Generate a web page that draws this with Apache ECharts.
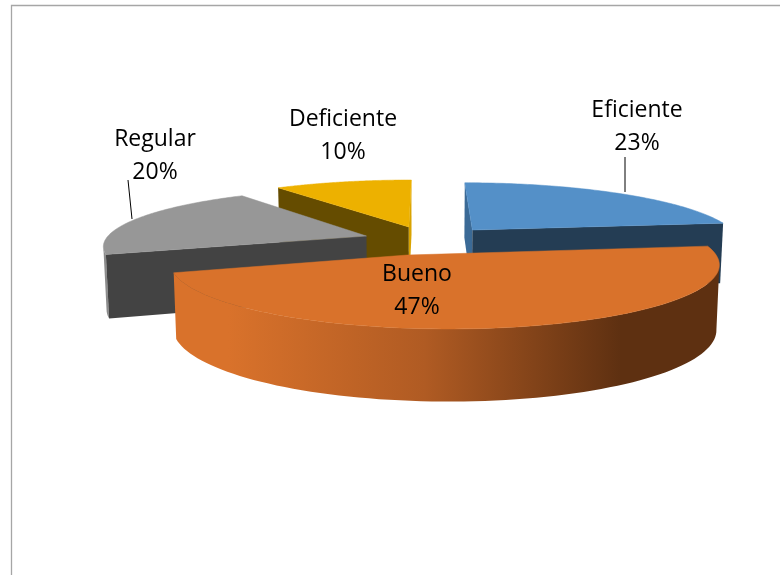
<!DOCTYPE html>
<html>
<head>
<meta charset="utf-8">
<style>html,body{margin:0;padding:0;background:#fff}#c{width:780px;height:575px}</style>
<script src="https://cdn.jsdelivr.net/npm/echarts@6/dist/echarts.min.js"></script>
</head>
<body>
<div id="c"></div>
<script>
// Data
var categories = ['Eficiente', 'Bueno', 'Regular', 'Deficiente'];
var values = [23, 47, 20, 10];

// Appearance: one entry per category
var topColors = ['#5490C8', '#D9722B', '#979797', '#EDB100'];
var cutStartColors = ['#3B6A96', null, '#434343', '#654C00'];
var cutEndColors = ['#243D54', null, null, '#D9A300'];
var rimColors = ['#243D54', null, '#8C8C8C', '#C99A00'];
var drawOrder = [1, 3, 2, 0];
var pulls = [[0.185, 0.14], [0.07, -0.216], [-0.284, 0.07], [-0.064, 0.196]];
var apexShifts = [[0, 0], [-0.135, -0.06], [0.06, -0.036], [0, 0]];
var radii = [1.015, 0.98, 0.93, 1.03];
var labelAnchors = [[637, 127], [417, 291], [155, 156], [343, 136]];
var leaders = [[[625, 157], [625, 192]], null, [[128, 180], [132, 219]], null];

// View projection of the tilted disc
var view = {vpX: 425, horizonY: 238, a: 263, k: 58.5, p: 0.193, depth: 62, taper: 0.99};

function project(X, Y) {
  var w = 1 + view.p * Y;
  return [view.vpX + view.a * X / w, view.horizonY - view.k * Y / w];
}
function lower(pt, Y) {
  var w = 1 + view.p * Y;
  return [view.vpX + (pt[0] - view.vpX) * view.taper, pt[1] + view.depth / Math.pow(w, 0.6)];
}
// where a ray from the apex at data angle t meets the rim (angles clockwise from top)
function rimAngle(t, sx, sy, r) {
  var dx = Math.sin(t), dy = Math.cos(t);
  var b = sx * dx + sy * dy, c = sx * sx + sy * sy - r * r;
  var s = -b + Math.sqrt(b * b - c);
  return Math.atan2(sx + dx * s, sy + dy * s);
}
var total = values.reduce(function (a, b) { return a + b; }, 0);
var rimShade = [
  {offset: 0, color: '#D9722B'}, {offset: 0.1, color: '#D9722B'},
  {offset: 0.46, color: '#B05B23'}, {offset: 0.82, color: '#5E3011'}, {offset: 1, color: '#5E3011'}
];

function renderSlice(params, api) {
  var i = params.dataIndex;
  var before = 0;
  for (var n = 0; n < i; n++) before += values[n];
  var value = api.value(0);
  var t0 = before / total * 2 * Math.PI;
  var t1 = (before + value) / total * 2 * Math.PI;
  var c = pulls[i], s = apexShifts[i], r = radii[i];
  var a0 = rimAngle(t0, s[0], s[1], r);
  var a1 = rimAngle(t1, s[0], s[1], r);
  while (a1 < a0) a1 += 2 * Math.PI;

  var world = [], N = 90;
  for (var j = 0; j <= N; j++) {
    var a = a0 + (a1 - a0) * j / N;
    world.push([c[0] + r * Math.sin(a), c[1] + r * Math.cos(a)]);
  }
  var rim = world.map(function (q) { return project(q[0], q[1]); });
  var rimLow = world.map(function (q, k) { return lower(rim[k], q[1]); });
  var apexW = [c[0] + s[0], c[1] + s[1]];
  var apex = project(apexW[0], apexW[1]);
  var apexLow = lower(apex, apexW[1]);
  var base = (drawOrder[i] + 1) * 10;

  // the outer wall: only the stretch of rim that faces the viewer (moving leftwards clockwise)
  var wallTop = [], wallLow = [];
  for (var q = 0; q <= N; q++) {
    var facing = (q < N && rim[q + 1][0] < rim[q][0]) || (q > 0 && rim[q][0] < rim[q - 1][0]);
    if (facing) { wallTop.push(rim[q]); wallLow.push(rimLow[q]); }
  }
  var rimFill = rimColors[i] || new echarts.graphic.LinearGradient(0, 0, 1, 0, rimShade);

  var children = [];
  if (wallTop.length) {
    children.push({type: 'polygon', z2: base, shape: {points: wallTop.concat(wallLow.reverse())}, style: {fill: rimFill}});
  }
  if (cutStartColors[i]) {
    children.push({type: 'polygon', z2: base + 1, shape: {points: [rim[0], apex, apexLow, rimLow[0]]}, style: {fill: cutStartColors[i]}});
  }
  if (cutEndColors[i]) {
    children.push({type: 'polygon', z2: base + 2, shape: {points: [rim[N], apex, apexLow, rimLow[N]]}, style: {fill: cutEndColors[i]}});
  }
  children.push({type: 'polygon', z2: base + 3, shape: {points: [apex].concat(rim)}, style: {fill: topColors[i], stroke: topColors[i], lineWidth: 0.5}});
  if (leaders[i]) {
    children.push({type: 'polyline', z2: 100, shape: {points: leaders[i]}, style: {fill: null, stroke: '#000', lineWidth: 1}});
  }
  children.push({
    type: 'text', z2: 110,
    style: {
      x: labelAnchors[i][0], y: labelAnchors[i][1],
      text: categories[i] + '\n' + Math.round(value / total * 100) + '%',
      align: 'center', verticalAlign: 'middle',
      font: '23px "Open Sans"', lineHeight: 33, fill: '#000'
    }
  });
  return {type: 'group', children: children};
}

var chart = echarts.init(document.getElementById('c'), null, {renderer: 'canvas'});
chart.setOption({
  animation: false,
  backgroundColor: '#fff',
  graphic: [{
    type: 'polyline', silent: true,
    shape: {points: [[11.5, 575], [11.5, 5.5], [780, 5.5]]},
    style: {fill: null, stroke: '#A6A6A6', lineWidth: 1.3}
  }],
  series: [{
    type: 'custom',
    coordinateSystem: 'none',
    renderItem: renderSlice,
    data: values.map(function (v, i) { return {name: categories[i], value: [v]}; })
  }]
});
</script>
</body>
</html>
